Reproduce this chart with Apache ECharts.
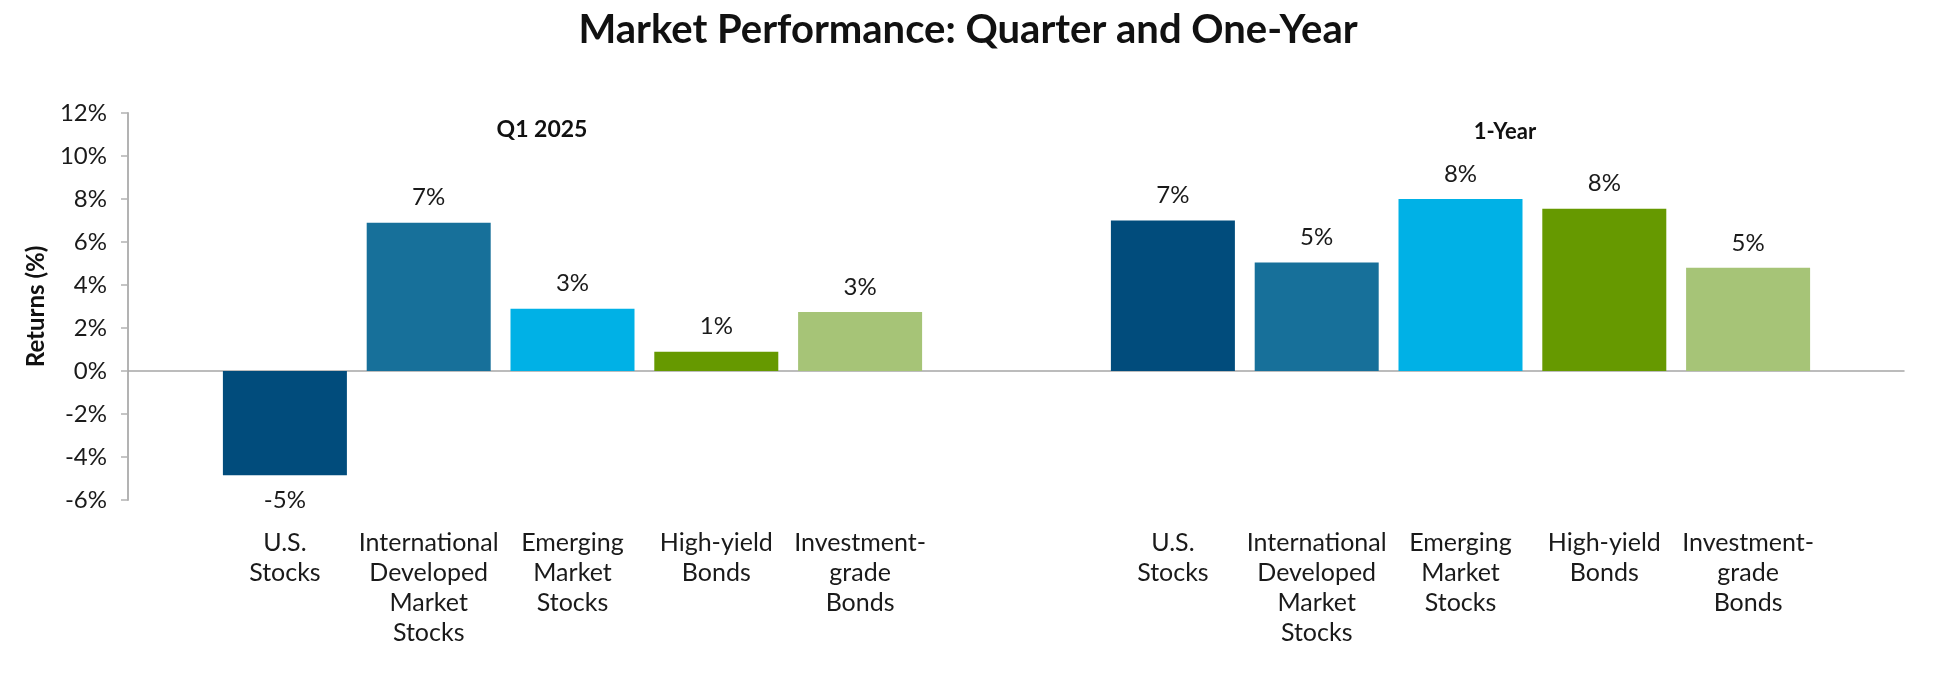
<!DOCTYPE html>
<html>
<head>
<meta charset="utf-8">
<script src="https://cdn.jsdelivr.net/npm/echarts@6/dist/echarts.min.js"></script>
<style>
html,body{margin:0;padding:0;background:#fff;}
#chart{width:1950px;height:695px;}
</style>
</head>
<body>
<div id="chart"></div>
<script>
var categories = ['U.S.\nStocks', 'International\nDeveloped\nMarket\nStocks', 'Emerging\nMarket\nStocks', 'High-yield\nBonds', 'Investment-\ngrade\nBonds'];
var quarterValues = [-4.85, 6.9, 2.9, 0.9, 2.75];
var yearValues = [7.0, 5.05, 8.0, 7.55, 4.8];
var colors = ['#014C7C', '#17709A', '#00B1E6', '#669900', '#A6C477'];
var yTicks = { min: -6, max: 12, interval: 2 };
var panelTitles = ['Q1 2025', '1-Year'];

var FONT = 'Lato';
var TOP = 113, BOTTOM = 195;

function buildData(vals) {
  return vals.map(function (v, i) {
    return {
      value: v,
      itemStyle: { color: colors[i] },
      label: { position: v < 0 ? 'bottom' : 'top' }
    };
  });
}

function barSeries(idx, vals) {
  return {
    type: 'bar',
    xAxisIndex: idx,
    yAxisIndex: idx,
    barWidth: 124,
    data: buildData(vals),
    label: {
      show: true,
      distance: 13,
      fontFamily: FONT,
      fontSize: 24,
      color: '#1a1a1a',
      formatter: function (p) { return Math.round(p.value) + '%'; }
    },
    silent: true
  };
}

var hiddenY = function (i) {
  return { type: 'value', gridIndex: i, min: yTicks.min, max: yTicks.max, interval: yTicks.interval, show: false };
};
var catX = function (i) {
  return {
    type: 'category', gridIndex: i, data: categories,
    axisLine: { show: false, onZero: false }, axisTick: { show: false },
    axisLabel: { fontFamily: FONT, fontSize: 25, color: '#1a1a1a', lineHeight: 30, margin: 28, interval: 0 }
  };
};

var option = {
  backgroundColor: '#fff',
  animation: false,
  title: [
    { text: 'Market Performance: Quarter and One-Year', left: 963, top: 5, textAlign: 'center',
      textStyle: { fontFamily: FONT, fontWeight: 'bold', fontSize: 40, color: '#111' } },
    { text: panelTitles[0], left: 537, top: 113, textAlign: 'center',
      textStyle: { fontFamily: FONT, fontWeight: 'bold', fontSize: 23, color: '#111' } },
    { text: panelTitles[1], left: 1500, top: 116, textAlign: 'center',
      textStyle: { fontFamily: FONT, fontWeight: 'bold', fontSize: 22, color: '#111' } }
  ],
  grid: [
    { left: 128, right: 46, top: TOP, bottom: BOTTOM },
    { left: 213, width: 719, top: TOP, bottom: BOTTOM },
    { left: 1101, width: 719, top: TOP, bottom: BOTTOM }
  ],
  xAxis: [
    { type: 'category', gridIndex: 0, data: [''],
      axisLine: { show: true, onZero: true, lineStyle: { color: '#A6A6A6', width: 1.5 } },
      axisTick: { show: false }, axisLabel: { show: false } },
    catX(1),
    catX(2)
  ],
  yAxis: [
    { type: 'value', gridIndex: 0, min: yTicks.min, max: yTicks.max, interval: yTicks.interval,
      name: 'Returns (%)', nameLocation: 'middle', nameGap: 80, nameRotate: 90,
      nameTextStyle: { fontFamily: FONT, fontWeight: 'bold', fontSize: 24, color: '#111' },
      axisLine: { show: true, lineStyle: { color: '#B3B3B3', width: 2 } },
      axisTick: { show: true, length: 7, lineStyle: { color: '#B3B3B3', width: 1.5 } },
      axisLabel: { fontFamily: FONT, fontSize: 24, color: '#1a1a1a', margin: 21,
        formatter: function (v) { return v + '%'; } },
      splitLine: { show: false } },
    hiddenY(1),
    hiddenY(2)
  ],
  series: [
    barSeries(1, quarterValues),
    barSeries(2, yearValues)
  ]
};

var chart = echarts.init(document.getElementById('chart'));
chart.setOption(option);
</script>
</body>
</html>
